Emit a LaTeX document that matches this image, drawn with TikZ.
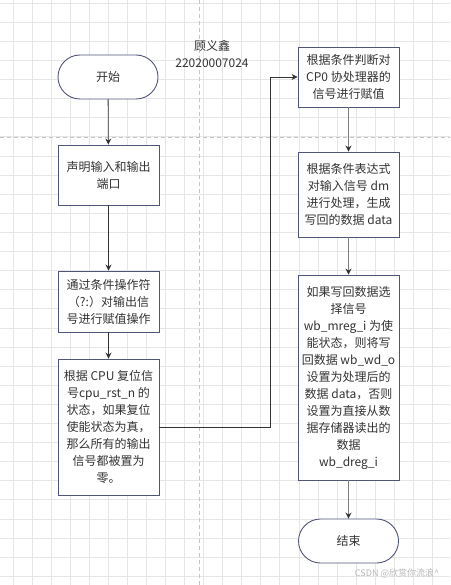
\documentclass[tikz,border=0pt]{standalone}
\usepackage{fontspec}
\setmainfont{Noto Sans CJK SC}
\usepackage{xcolor}
\definecolor{boxline}{HTML}{50557A}
\definecolor{flowline}{HTML}{333333}
\definecolor{flowgray}{HTML}{7E7E7E}
\definecolor{gridline}{HTML}{E6E6E6}
\definecolor{pageline}{HTML}{C4C4C4}
\definecolor{inktext}{HTML}{333333}
\usepackage{tikz}
\usetikzlibrary{arrows.meta, positioning, calc}

\begin{document}
\begin{tikzpicture}[x=1pt, y=-1pt, >={Stealth[length=6pt,width=6pt]},
  procbox/.style={draw=boxline, fill=white, line width=0.9pt, text=inktext,
    minimum width=101pt, align=center, inner sep=0pt,
    font=\fontsize{12}{17}\selectfont},
  termbox/.style={procbox, rounded corners=22pt, minimum width=100pt, minimum height=44pt},
  flowarrow/.style={->, flowline, line width=0.8pt},
  grayarrow/.style={-{Stealth[length=6pt,width=6pt,color=flowline]}, flowgray, line width=1.6pt}]

  \useasboundingbox (0,0) rectangle (450,585);
  \fill[white] (0,0) rectangle (450,585);

  % grid
  \foreach \k in {0,...,23}
    \draw[gridline, line width=0.8pt] (13+19.06*\k,0) -- (13+19.06*\k,585);
  \foreach \k in {-1,...,29}
    \draw[gridline, line width=0.8pt] (0,22.3+19.1*\k) -- (450,22.3+19.1*\k);

  % page breaks
  \draw[pageline, line width=0.8pt, dash pattern=on 4pt off 3pt] (199.5,0) -- (199.5,585);
  \draw[pageline, line width=0.8pt, dash pattern=on 4pt off 3pt] (0,137) -- (450,137);

  \node[font=\fontsize{12}{17}\selectfont, text=inktext, align=center] (author) at (212,53.5)
    {顾义鑫\\22020007024};

  % left column
  \node[termbox] (start) at (108,77) {开始};
  \node[procbox, minimum height=60pt] (decl) at (108.5,175)
    {声明输入和输出\\端口};
  \node[procbox, minimum height=61pt] (assign) at (108.5,301.5)
    {通过条件操作符\\（?:）对输出信\\号进行赋值操作};
  \node[procbox, minimum height=136pt] (reset) at (108.5,427)
    {根据 CPU 复位信\\号cpu\_rst\_n 的\\状态，如果复位\\使能状态为真，\\那么所有的输出\\信号都被置为\\零。};

  % right column
  \node[procbox, minimum height=60pt] (cp0) at (348.5,77)
    {根据条件判断对\\CP0 协处理器的\\信号进行赋值};
  \node[procbox, minimum height=85pt] (dmproc) at (348.5,194.5)
    {根据条件表达式\\对输入信号 dm\\进行处理，生成\\写回的数据 data};
  \node[procbox, minimum height=205pt] (wbsel) at (348.5,377.5)
    {如果写回数据选\\择信号\\wb\_mreg\_i 为使\\能状态，则将写\\回数据 wb\_wd\_o\\设置为处理后的\\数据 data，否则\\设置为直接从数\\据存储器读出的\\数据\\wb\_dreg\_i};
  \node[termbox] (stop) at (348.5,541) {结束};

  \coordinate (turn) at (270,427);

  \draw[flowarrow] (start) -- (decl);
  \draw[flowarrow] (decl) -- (assign);
  \draw[flowarrow] (assign) -- (reset);
  \draw[flowarrow] (reset.east) -- (turn) |- (cp0.west);
  \draw[grayarrow] (cp0) -- (dmproc);
  \draw[grayarrow] (dmproc) -- (wbsel);
  \draw[grayarrow] (wbsel) -- (stop);

  \node[font=\fontsize{9}{10}\selectfont, text=black!28] (mark) at (397,573)
    {CSDN @欣赏你流浪\textasciicircum};

\end{tikzpicture}
\end{document}
